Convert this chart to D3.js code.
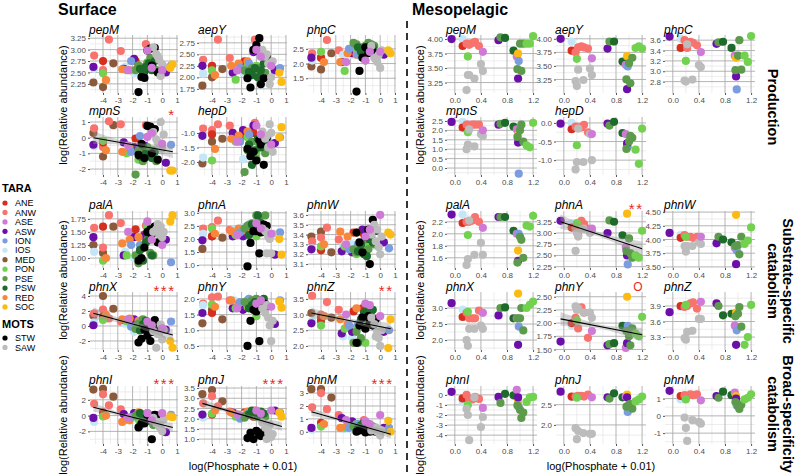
<!DOCTYPE html>
<html><head><meta charset="utf-8">
<script src="https://cdn.jsdelivr.net/npm/d3@7"></script>
<style>body{margin:0;background:#fff} svg{font-family:"Liberation Sans",Arial,sans-serif}</style>
</head><body><svg id="c" width="797" height="476"></svg>
<script>
// ---------- groups / colours ----------
const tara = ["ANE","ANW","ASE","ASW","ION","IOS","MED","PON","PSE","PSW","RED","SOC"];
const mots = ["STW","SAW"];
const groupColors = ["#d62f1f","#f8736e","#d07ad8","#6b0fa8","#7b9de0","#c4e6f6","#8b5a3c","#72d24f","#5c9a4c","#1d6a2b","#f7873b","#fbbb12","#000000","#bcbcbc"];

// ---------- surface stations ----------
const surfGroup = ["MED","MED","MED","ANW","ANW","ANW","ANW","ANW","ANE","ANE","ANE","IOS","IOS","IOS",
 "ASW","ASW","ASW","ASW","ASW","PON","PON","PON","PON","RED","RED","RED","RED","ION","ION","ION",
 "PSE","PSE","PSE","PSE","PSE","PSE","PSE","PSW","PSW","PSW","PSW","PSW","PSW",
 "STW","STW","STW","STW","STW","STW","STW","STW","SAW","SAW","SAW","SAW","SAW","SAW","SAW",
 "SOC","SOC","ASE","ASE","ASE","ASE"];
const surfX = [-4.65,-4.0,-3.3,-4.6,-4.0,-3.6,-2.8,-1.1,-4.0,-1.8,-1.2,-4.6,-2.5,-1.9,
 -4.65,-2.6,-1.9,-1.2,0.25,-4.0,-2.4,-1.6,-1.0,-3.8,-2.7,-2.2,-1.6,-2.1,-1.5,0.6,
 -1.8,-1.6,-1.3,-1.0,-0.8,-0.6,-0.4,-1.5,-1.3,-1.1,-0.9,-0.7,-0.5,
 -1.6,-1.4,-1.2,-1.0,-0.8,-0.7,-0.5,-0.3,-0.6,-0.4,-0.2,0.0,-0.1,0.1,-0.3,
 0.55,0.7,-1.0,-0.7,0.0,-2.3];
const sPepM = [2.28,2.18,2.7,2.87,2.55,3.22,2.97,3.12,2.75,2.75,2.6,2.58,2.62,2.48,2.62,2.58,2.8,2.52,2.5,2.48,2.55,2.65,2.72,2.33,2.57,2.55,2.6,2.75,2.62,2.65,2.55,2.65,2.6,2.7,2.82,2.6,2.55,2.58,2.5,2.62,2.7,2.55,2.75,2.07,2.4,2.38,2.98,3.02,2.65,3.04,2.5,3.05,2.9,2.78,2.68,2.42,2.62,2.85,2.6,2.68,2.98,2.6,2.55,2.55];
const sAepY = [1.82,2.0,2.18,2.38,2.2,2.82,2.42,2.82,2.25,2.35,2.2,2.08,2.15,2.1,2.25,2.1,2.2,2.55,2.15,2.15,1.95,2.25,2.25,2.05,2.25,2.3,2.35,2.2,2.3,2.2,2.15,2.1,2.2,2.05,2.2,2.0,2.1,2.12,2.05,2.2,2.0,2.15,2.3,1.98,1.78,2.6,2.7,2.85,1.85,1.98,2.45,2.6,2.45,2.3,2.0,1.85,2.35,2.5,2.1,1.9,2.6,2.45,2.25,2.15];
const sPhpC = [1.9,1.8,2.35,2.35,2.2,2.8,2.45,2.35,2.2,2.5,2.45,2.1,2.3,2.3,2.2,2.05,2.35,2.4,2.3,2.4,1.75,2.45,2.1,2.05,2.05,2.35,2.3,2.5,2.3,2.4,2.7,2.65,2.55,2.6,2.7,2.65,2.6,2.55,2.4,2.3,2.45,2.6,2.55,1.05,1.75,2.2,2.55,2.35,2.45,2.4,2.35,2.6,2.2,2.05,1.85,2.3,2.45,2.15,2.45,2.35,2.1,2.4,2.4,2.05];
const sMpnS = [0.3,-1.2,0.8,0.6,-0.6,1.05,0.85,0.8,-0.3,-0.05,-1.0,-0.55,-0.9,-0.7,-0.45,-0.3,-0.6,-0.5,-1.6,-0.2,-1.0,-1.4,-0.9,-0.8,-0.9,-0.7,-1.0,-0.9,0.1,-0.45,-2.35,-0.8,-1.5,-0.6,-1.2,-0.8,-1.5,-1.2,-0.5,-1.0,-1.1,-1.3,-0.9,-1.1,-0.4,-1.3,0.75,0.7,-1.0,0.55,-1.4,0.35,-0.1,-0.5,-0.7,1.0,0.2,-0.3,-2.1,-2.1,0.05,0.3,-0.4,-0.5];
const sHepD = [-2.05,-1.3,-1.2,-0.85,-0.9,-0.7,-0.75,-0.65,-1.05,-1.1,-1.0,-1.85,-1.2,-1.9,-1.1,-1.0,-0.9,-0.75,-1.35,-1.95,-1.3,-1.15,-1.7,-1.55,-1.2,-1.1,-0.95,-1.3,-1.05,-1.15,-2.35,-1.6,-1.3,-1.9,-1.4,-1.1,-1.7,-1.4,-2.1,-1.6,-1.2,-1.5,-1.3,-1.55,-1.8,-1.65,-1.95,-1.25,-1.4,-2.1,-1.2,-0.95,-1.2,-1.5,-1.0,-0.7,-1.65,-1.1,-1.15,-0.8,-0.75,-1.05,-1.4,-1.3];
const sPalA = [1.25,1.1,1.6,1.58,1.2,1.82,1.67,1.62,1.6,1.55,1.45,1.12,1.12,1.0,1.4,1.05,1.4,1.42,1.35,0.95,1.05,1.0,1.6,1.0,1.28,1.35,1.4,1.25,1.25,0.92,1.05,0.9,1.2,1.35,1.1,1.05,1.5,1.15,0.95,1.3,1.35,1.05,1.6,0.95,1.0,1.2,1.5,1.55,1.45,1.6,1.3,1.5,1.55,1.45,1.4,1.6,1.5,1.65,1.7,1.82,1.7,1.35,1.25,1.5];
const sPhnA = [1.62,2.1,2.05,2.4,2.45,2.7,2.35,2.5,2.1,2.3,2.35,2.2,2.35,2.45,1.95,2.1,2.1,2.5,1.4,2.4,2.15,2.3,2.1,2.2,2.3,2.4,2.3,2.25,2.55,2.25,2.4,2.5,2.6,2.9,2.75,2.5,2.9,2.15,2.55,2.45,2.9,2.6,2.5,0.95,1.85,2.3,2.3,1.45,2.25,2.55,2.5,2.4,2.3,2.1,1.45,2.0,2.2,1.45,2.0,1.4,2.6,2.4,2.2,2.15];
const sPhnW = [3.38,3.43,3.22,3.33,3.37,3.47,3.35,3.4,3.24,3.42,3.42,3.26,3.28,3.3,3.25,3.23,3.22,3.45,3.32,3.28,3.28,3.2,3.28,3.3,3.43,3.38,3.42,3.25,3.3,3.26,3.25,3.22,3.3,3.35,3.25,3.38,3.3,3.23,3.3,3.2,3.18,3.35,3.32,3.42,3.32,3.22,3.38,3.45,3.1,3.55,3.44,3.4,3.5,3.45,3.2,3.27,3.38,3.33,3.42,3.4,3.38,3.45,3.6,3.3];
const sPhnX = [1.4,4.0,2.3,1.7,2.2,1.0,0.6,0.3,1.3,-0.2,-0.3,0.5,0.3,-0.8,0.1,0.8,0.9,0.6,-0.5,0.8,0.6,0.2,0.0,1.5,0.9,1.0,0.7,-0.1,0.5,0.6,-0.4,0.3,0.9,0.0,-0.5,0.4,-0.3,-0.6,0.2,0.7,-0.2,0.3,0.0,-2.2,-1.7,-0.5,-1.3,-2.0,-0.8,0.8,-0.3,-0.7,-2.9,-1.0,-1.8,0.2,-0.5,-1.1,-2.0,-2.9,0.6,0.1,-0.3,0.9];
const sPhnY = [1.22,1.65,1.35,1.85,2.05,2.07,1.95,1.85,1.55,1.75,1.8,1.8,1.95,1.8,1.55,1.7,1.65,1.75,1.2,1.82,1.7,1.75,1.45,1.75,1.95,1.85,1.95,1.9,2.0,1.95,1.9,1.85,1.95,2.0,1.8,1.9,1.85,1.7,1.8,1.9,1.75,1.95,2.0,0.5,1.3,1.65,1.6,0.65,1.75,1.85,1.75,1.7,1.55,1.4,0.65,1.15,1.3,1.8,1.92,1.72,1.85,1.95,1.75,1.7];
const sPhnZ = [3.05,2.8,2.9,3.6,3.0,3.4,3.15,3.2,2.9,3.1,3.2,2.8,2.3,2.25,2.72,2.4,2.45,2.9,2.45,2.65,2.55,2.6,2.1,2.95,2.85,2.7,3.2,2.65,2.7,2.5,2.1,2.45,2.25,2.6,2.8,3.1,2.7,2.1,2.85,3.05,3.2,2.95,3.15,2.1,2.65,2.9,2.55,2.95,2.75,2.65,2.85,2.9,2.7,2.45,2.0,2.25,2.5,2.3,1.93,2.85,3.35,3.3,2.95,3.0];
const sPhnI = [3.3,3.4,2.4,1.5,2.7,1.3,0.8,0.2,0.4,-0.2,-0.3,-0.8,0.0,-0.2,-0.3,0.2,0.3,0.1,-2.1,-0.1,-0.5,-0.5,0.3,0.0,-0.8,-0.6,0.4,-0.2,-1.3,0.1,0.0,0.2,-0.8,-0.2,-0.7,-1.2,-0.5,0.3,-0.1,-0.4,-0.6,0.0,-0.3,-1.5,-1.0,-1.0,0.1,-0.5,-3.0,0.1,0.0,-0.3,-1.0,-1.4,-2.0,-1.6,-0.5,-0.8,-0.1,-0.2,0.3,-0.6,0.3,-0.3];
const sPhnJ = [3.2,3.4,2.85,2.75,3.1,2.6,2.35,2.4,2.2,2.3,2.1,2.05,2.3,2.2,2.2,2.3,2.1,2.3,2.4,2.25,2.1,2.25,2.2,2.4,2.3,2.2,2.35,2.0,2.3,2.3,2.05,2.2,2.35,2.1,2.3,2.25,2.1,2.2,2.4,2.3,2.15,2.35,2.25,1.05,1.3,1.0,1.4,1.2,1.15,1.35,1.3,1.8,1.55,1.3,1.1,1.7,1.25,1.0,2.3,2.1,2.4,2.25,2.4,2.2];
const sPhnM = [3.3,3.3,2.65,1.9,3.0,1.75,1.3,0.9,0.7,0.6,0.3,0.15,0.2,0.15,0.3,1.05,0.8,0.6,0.3,0.4,0.3,0.6,0.05,0.6,0.3,0.4,0.5,0.3,0.6,0.3,0.4,0.2,0.5,0.3,0.6,0.4,0.3,0.25,0.5,0.7,0.3,0.5,0.4,0.0,0.1,0.15,-0.05,0.1,0.0,0.05,0.0,0.1,0.3,0.0,-0.3,0.2,0.1,0.35,0.85,0.0,0.8,0.6,1.3,0.9];

// ---------- mesopelagic stations ----------
const mesoGroup = ["ASW","IOS","ANE","ANW","ANW","ANW","ANW","ANW","PON","SAW","SAW","SAW","SAW","SAW","SAW","ASE",
 "ASW","PSE","PSW","PSW","ASE","SOC","ION","ASW","PSE","PSE","PSE","PSE","PON","PON","PON"];
const mesoX = [-0.05,0.12,0.12,0.18,0.22,0.27,0.31,0.37,0.20,0.18,0.20,0.22,0.30,0.40,0.43,0.43,0.67,0.70,0.77,0.90,0.95,0.97,0.98,0.97,0.96,1.00,1.05,1.02,1.10,1.15,1.20];
const mPepM = [4.00,4.00,3.88,3.92,3.90,3.93,3.95,3.88,3.70,3.12,3.38,3.38,3.32,3.57,3.45,3.78,3.98,4.03,4.02,3.80,3.70,3.75,3.62,3.32,3.48,3.92,3.92,3.45,3.92,3.92,4.05];
const mAepY = [4.00,3.95,3.78,3.75,3.84,3.86,3.84,3.82,3.63,3.22,3.13,3.43,3.24,3.45,3.33,3.64,3.82,3.95,3.95,3.58,3.52,3.68,3.49,3.07,3.25,3.55,3.65,3.18,3.83,3.86,3.82];
const mPhpC = [3.67,3.63,3.45,3.60,3.45,3.57,3.55,3.50,3.20,2.82,2.80,3.52,2.84,3.12,3.08,3.37,3.53,3.56,3.57,3.45,3.30,3.26,2.65,2.90,3.02,3.30,3.03,3.60,3.30,3.18,3.68];
const mMpnS = [2.45,2.45,2.15,2.30,2.25,2.30,2.30,2.30,1.90,1.00,1.25,2.05,1.15,1.80,1.70,2.00,2.30,2.35,2.40,2.20,2.05,1.75,-0.30,1.35,1.65,2.00,1.40,2.30,1.20,1.10,2.40];
const mHepD = [-0.02,0.00,-0.17,-0.10,-0.12,-0.12,-0.05,-0.25,-0.60,-1.25,-1.05,-0.15,-1.05,-0.30,-1.00,-0.30,-0.02,-0.07,0.03,-0.27,-0.30,-0.62,-0.65,-0.55,-0.70,-0.50,-0.40,-0.35,-0.72,-1.10,-0.15];
const mPalA = [2.32,2.32,2.18,2.20,2.20,2.22,2.28,2.20,1.98,1.48,1.58,2.22,1.65,1.85,1.65,2.10,2.28,2.28,2.28,2.05,2.00,1.72,2.00,1.55,1.52,1.95,1.60,1.90,2.14,2.12,2.30];
const mPhnA = [3.27,3.22,3.12,3.10,2.95,3.27,3.20,3.10,3.22,2.60,3.00,2.92,3.10,3.00,3.05,3.10,3.00,3.28,3.25,2.95,2.68,3.43,2.30,2.50,2.60,2.88,2.45,2.55,2.50,2.45,3.05];
const mPhnW = [4.12,4.08,4.03,4.08,4.05,4.05,4.03,4.05,4.05,3.88,3.78,3.88,3.88,3.95,3.92,4.05,3.93,4.05,4.00,3.95,3.85,4.45,3.80,3.55,3.88,3.90,4.05,3.73,3.92,3.98,4.22];
const mPhnX = [3.15,2.95,2.72,2.85,2.68,2.68,2.68,2.92,2.88,2.00,1.82,2.35,2.35,2.45,2.35,2.85,2.77,3.00,3.02,2.68,2.68,3.45,2.42,1.85,2.68,2.68,2.30,3.00,3.00,3.10,3.20];
const mPhnY = [1.65,1.95,2.00,2.10,1.90,2.30,2.20,1.72,2.05,2.32,2.25,2.28,2.20,2.20,2.10,1.85,1.58,1.60,1.62,1.95,1.53,2.50,1.95,1.62,1.85,1.75,1.90,1.58,1.80,1.75,2.12];
const mPhnZ = [3.78,3.88,3.90,3.88,3.90,3.95,3.97,3.85,3.92,3.28,3.25,3.40,3.42,3.65,3.65,3.98,3.95,3.90,3.72,3.75,3.52,3.77,3.43,3.15,3.70,3.75,3.50,3.88,3.15,3.30,3.92];
const mPhnI = [0.30,-0.70,-0.35,0.00,-0.40,-0.45,-0.20,-0.40,-1.00,-1.40,-2.00,-4.50,-0.25,-3.20,-2.20,-1.30,-0.20,-0.80,0.10,-0.05,0.50,-0.65,-1.20,-0.25,-1.05,-1.50,-1.75,-2.30,-0.70,-0.25,-0.20];
const mPhnJ = [2.82,2.68,2.70,2.70,2.72,2.72,2.70,2.75,2.67,1.92,1.65,1.85,1.80,1.78,1.78,2.68,2.68,2.65,2.78,2.68,2.70,2.75,2.32,2.68,2.45,2.50,2.40,2.52,2.58,2.63,2.70];
const mPhnM = [1.45,0.95,1.15,1.20,1.15,1.25,1.20,1.25,0.95,-0.10,-0.70,-1.45,-0.25,-0.35,-0.45,0.90,1.15,1.05,1.40,1.20,1.35,1.15,0.60,1.00,0.80,0.55,0.65,0.40,0.95,1.05,1.25];

// ---------- axis ticks ----------
const surfXTicks = [-4,-3,-2,-1,0,1];
const mesoXTicks = [0.0,0.4,0.8,1.2];
// fitted lines: [x0, y0, x1, y1, band half-width at ends, band half-width at centre]
const fitMpnS = [-4.65,0.0,0.72,-0.9,0.4,0.13];
const fitPhnX = [-4.65,1.7,0.72,-1.2,0.8,0.25];
const fitPhnZ = [-4.65,3.05,0.72,2.55,0.17,0.06];
const fitPhnI = [-4.65,1.05,0.72,-1.5,0.55,0.16];
const fitPhnJ = [-4.65,2.75,0.72,1.62,0.22,0.07];
const fitPhnM = [-4.65,1.55,0.72,-0.2,0.32,0.1];
const fitMPhnA = [-0.05,3.25,1.2,2.65,0.16,0.05];
const fitMPhnY = [-0.05,2.08,1.2,1.78,0.13,0.04];

// ---------- panels ----------
// [section, gene, row, col, values, yDomain, yTicks, decimals, fit, significance]
const panels = [
 ["s","pepM",0,0,sPepM,[2.05,3.32],[2.25,2.5,2.75,3.0,3.25],2,null,""],
 ["s","aepY",0,1,sAepY,[1.66,2.92],[1.75,2.0,2.25,2.5,2.75],2,null,""],
 ["s","phpC",0,2,sPhpC,[1.0,2.97],[1.5,2.0,2.5],1,null,""],
 ["s","mpnS",1,0,sMpnS,[-2.38,1.32],[-2,-1,0,1],0,fitMpnS,"*"],
 ["s","hepD",1,1,sHepD,[-2.45,-0.45],[-2.0,-1.5,-1.0],1,null,""],
 ["s","palA",2,0,sPalA,[0.81,1.9],[1.0,1.25,1.5,1.75],2,null,""],
 ["s","phnA",2,1,sPhnA,[0.89,3.07],[1.0,1.5,2.0,2.5,3.0],1,null,""],
 ["s","phnW",2,2,sPhnW,[3.06,3.64],[3.1,3.2,3.3,3.4,3.5,3.6],1,null,""],
 ["s","phnX",3,0,sPhnX,[-3.2,4.53],[-2,0,2,4],0,fitPhnX,"***"],
 ["s","phnY",3,1,sPhnY,[0.37,2.22],[0.5,1.0,1.5,2.0],1,null,""],
 ["s","phnZ",3,2,sPhnZ,[1.87,3.72],[2.0,2.5,3.0,3.5],1,fitPhnZ,"**"],
 ["s","phnI",4,0,sPhnI,[-3.6,3.75],[-2,0,2],0,fitPhnI,"***"],
 ["s","phnJ",4,1,sPhnJ,[0.76,3.6],[1.0,1.5,2.0,2.5,3.0,3.5],1,fitPhnJ,"***"],
 ["s","phnM",4,2,sPhnM,[-0.95,3.55],[0,1,2,3],0,fitPhnM,"***"],
 ["m","pepM",0,0,mPepM,[3.07,4.07],[3.25,3.5,3.75,4.0],2,null,""],
 ["m","aepY",0,1,mAepY,[3.0,4.07],[3.25,3.5,3.75,4.0],2,null,""],
 ["m","phpC",0,2,mPhpC,[2.58,3.7],[2.8,3.0,3.2,3.4,3.6],1,null,""],
 ["m","mpnS",1,0,mMpnS,[-0.37,2.71],[0,0.5,1.0,1.5,2.0,2.5],1,null,""],
 ["m","hepD",1,1,mHepD,[-1.4,0.16],[-1.0,-0.5,0.0],1,null,""],
 ["m","palA",2,0,mPalA,[1.43,2.38],[1.6,1.8,2.0,2.2],1,null,""],
 ["m","phnA",2,1,mPhnA,[2.22,3.49],[2.25,2.5,2.75,3.0,3.25],2,fitMPhnA,"**"],
 ["m","phnW",2,2,mPhnW,[3.48,4.52],[3.5,3.75,4.0,4.25,4.5],2,null,""],
 ["m","phnX",3,0,mPhnX,[1.69,3.5],[2.0,2.5,3.0],1,null,""],
 ["m","phnY",3,1,mPhnY,[1.49,2.59],[1.5,1.75,2.0,2.25,2.5],2,fitMPhnY,"O"],
 ["m","phnZ",3,2,mPhnZ,[3.05,4.17],[3.3,3.6,3.9],1,null,""],
 ["m","phnI",4,0,mPhnI,[-4.88,0.88],[-4,-3,-2,-1,0],0,null,""],
 ["m","phnJ",4,1,mPhnJ,[1.53,2.96],[2.0,2.5],1,null,""],
 ["m","phnM",4,2,mPhnM,[-1.63,1.73],[-1,0,1],0,null,""]
];

// ---------- layout ----------
const rows = [{t:35,b:93,ty:34},{t:117,b:175,ty:115},{t:211,b:268,ty:209},{t:292,b:350,ty:291},{t:386,b:444,ty:384}];
const layout = {
  s:{cols:[90,199,308],w:88,xd:[-4.88,1.07],xt:surfXTicks,xf:d3.format("d"),groups:surfGroup,xs:surfX},
  m:{cols:[447,556,665],w:90,xd:[-0.12,1.26],xt:mesoXTicks,xf:d3.format(".1f"),groups:mesoGroup,xs:mesoX}
};
const color = d3.scaleOrdinal().domain(tara.concat(mots)).range(groupColors);
const svg = d3.select("#c");
const majorCol = "#ababab", minorCol = "#e1e1e1";

function minors(ticks, dom){
  const step = ticks.length>1 ? ticks[1]-ticks[0] : 1;
  const out = [];
  for(let v = ticks[0]-step/2; v <= dom[1]; v += step) if(v >= dom[0]) out.push(v);
  return out;
}
const fmtMinus = s => s.replace("\u2212","-");

panels.forEach(p=>{
  const [sec,gene,r,c,vals,yd,yt,dec,fit,sig] = p;
  const L = layout[sec], R = rows[r];
  const x0 = L.cols[c], x1 = x0 + L.w;
  const x = d3.scaleLinear().domain(L.xd).range([x0,x1]);
  const y = d3.scaleLinear().domain(yd).range([R.b,R.t]);
  const g = svg.append("g");
  g.selectAll(".mx").data(minors(L.xt,L.xd)).join("line").attr("x1",d=>x(d)).attr("x2",d=>x(d)).attr("y1",R.t).attr("y2",R.b).attr("stroke",minorCol).attr("stroke-width",0.6);
  g.selectAll(".my").data(minors(yt,yd)).join("line").attr("y1",d=>y(d)).attr("y2",d=>y(d)).attr("x1",x0).attr("x2",x1).attr("stroke",minorCol).attr("stroke-width",0.6);
  g.selectAll(".Mx").data(L.xt.filter(v=>v>=L.xd[0]&&v<=L.xd[1])).join("line").attr("x1",d=>x(d)).attr("x2",d=>x(d)).attr("y1",R.t).attr("y2",R.b).attr("stroke",majorCol).attr("stroke-width",0.9);
  g.selectAll(".My").data(yt).join("line").attr("y1",d=>y(d)).attr("y2",d=>y(d)).attr("x1",x0).attr("x2",x1).attr("stroke",majorCol).attr("stroke-width",0.9);
  const ax = g.append("g").attr("transform",`translate(0,${R.b})`).call(d3.axisBottom(x).tickValues(L.xt).tickFormat(d=>fmtMinus(L.xf(d))).tickSize(2).tickPadding(2));
  const ay = g.append("g").attr("transform",`translate(${x0},0)`).call(d3.axisLeft(y).tickValues(yt).tickFormat(d=>fmtMinus(d3.format("."+dec+"f")(d))).tickSize(2).tickPadding(2));
  [ax,ay].forEach(a=>{a.select(".domain").remove();a.selectAll("line").attr("stroke","#555");a.selectAll("text").attr("fill","#4d4d4d").attr("font-size",8).attr("font-family","Liberation Sans, Arial, sans-serif");});
  g.selectAll("circle").data(vals.map((v,i)=>({x:L.xs[i],y:v,g:L.groups[i]}))).join("circle")
    .attr("cx",d=>x(d.x)).attr("cy",d=>y(d.y)).attr("r",4.1).attr("fill",d=>color(d.g));
  if(fit){
    const [fx0,fy0,fx1,fy1,we,wm] = fit;
    const xm = (fx0+fx1)/2 - (sec==="s"?0.5:0);
    const xsArr = d3.range(0,41).map(i=>fx0+(fx1-fx0)*i/40);
    const lineY = t=>fy0+(fy1-fy0)*(t-fx0)/(fx1-fx0);
    const hw = t=>{const e = t<xm ? (t-xm)/(fx0-xm) : (t-xm)/(fx1-xm); return Math.sqrt(wm*wm+(we*we-wm*wm)*e*e);};
    g.append("path").attr("d",d3.area().x(t=>x(t)).y0(t=>y(lineY(t)-hw(t))).y1(t=>y(lineY(t)+hw(t)))(xsArr))
      .attr("fill","#999999").attr("fill-opacity",0.4);
    g.append("line").attr("x1",x(fx0)).attr("y1",y(fy0)).attr("x2",x(fx1)).attr("y2",y(fy1)).attr("stroke","#000").attr("stroke-width",1.1);
  }
  g.append("text").attr("x",x0-1).attr("y",R.ty).text(gene).attr("font-size",12).attr("font-style","italic").attr("fill","#000");
  if(sig){
    if(sig==="O"){
      g.append("text").attr("x",x1-8).attr("y",R.ty).attr("text-anchor","middle").text("O").attr("font-size",12).attr("fill","#e8291c");
    } else {
      g.append("text").attr("x",x1-2.5).attr("y",R.ty+5).attr("text-anchor","end").text(sig).attr("font-size",15).attr("letter-spacing",1.5).attr("fill","#e8291c");
    }
  }
});

// ---------- section titles, axis titles ----------
svg.append("text").attr("x",58).attr("y",14.5).text("Surface").attr("font-weight","bold").attr("font-size",16);
svg.append("text").attr("x",412).attr("y",14.5).text("Mesopelagic").attr("font-weight","bold").attr("font-size",16);
svg.append("line").attr("x1",407).attr("x2",407).attr("y1",21).attr("y2",472).attr("stroke","#333").attr("stroke-width",2).attr("stroke-dasharray","7,5");

const yTitleCenters = [105,280,415];
[63,420].forEach(xp=>yTitleCenters.forEach(cy=>{
  svg.append("text").attr("transform",`translate(${xp+4},${cy}) rotate(-90)`).attr("text-anchor","middle").text("log(Relative abundance)").attr("font-size",11);
}));
[243,601].forEach(cx=>svg.append("text").attr("x",cx).attr("y",470).attr("text-anchor","middle").text("log(Phosphate + 0.01)").attr("font-size",11));

// ---------- right strip labels ----------
const strips = [[107,["Production"]],[281,["Substrate-specific","catabolism"]],[414,["Broad-specificity","catabolism"]]];
strips.forEach(([cy,lines])=>{
  lines.forEach((t,i)=>{
    const bx = lines.length===1 ? 768 : (i===0 ? 783 : 768);
    svg.append("text").attr("transform",`translate(${bx},${cy}) rotate(90)`).attr("text-anchor","middle").text(t).attr("font-weight","bold").attr("font-size",14.5);
  });
});

// ---------- legend ----------
svg.append("text").attr("x",2).attr("y",192).text("TARA").attr("font-weight","bold").attr("font-size",11);
tara.forEach((t,i)=>{
  const cy = 203 + i*9.45;
  svg.append("circle").attr("cx",5).attr("cy",cy).attr("r",2.6).attr("fill",color(t));
  svg.append("text").attr("x",15).attr("y",cy+3.2).text(t).attr("font-size",9);
});
svg.append("text").attr("x",2).attr("y",328).text("MOTS").attr("font-weight","bold").attr("font-size",11);
mots.forEach((t,i)=>{
  const cy = 338 + i*9.45;
  svg.append("circle").attr("cx",5).attr("cy",cy).attr("r",2.6).attr("fill",color(t));
  svg.append("text").attr("x",15).attr("y",cy+3.2).text(t).attr("font-size",9);
});
</script></body></html>
